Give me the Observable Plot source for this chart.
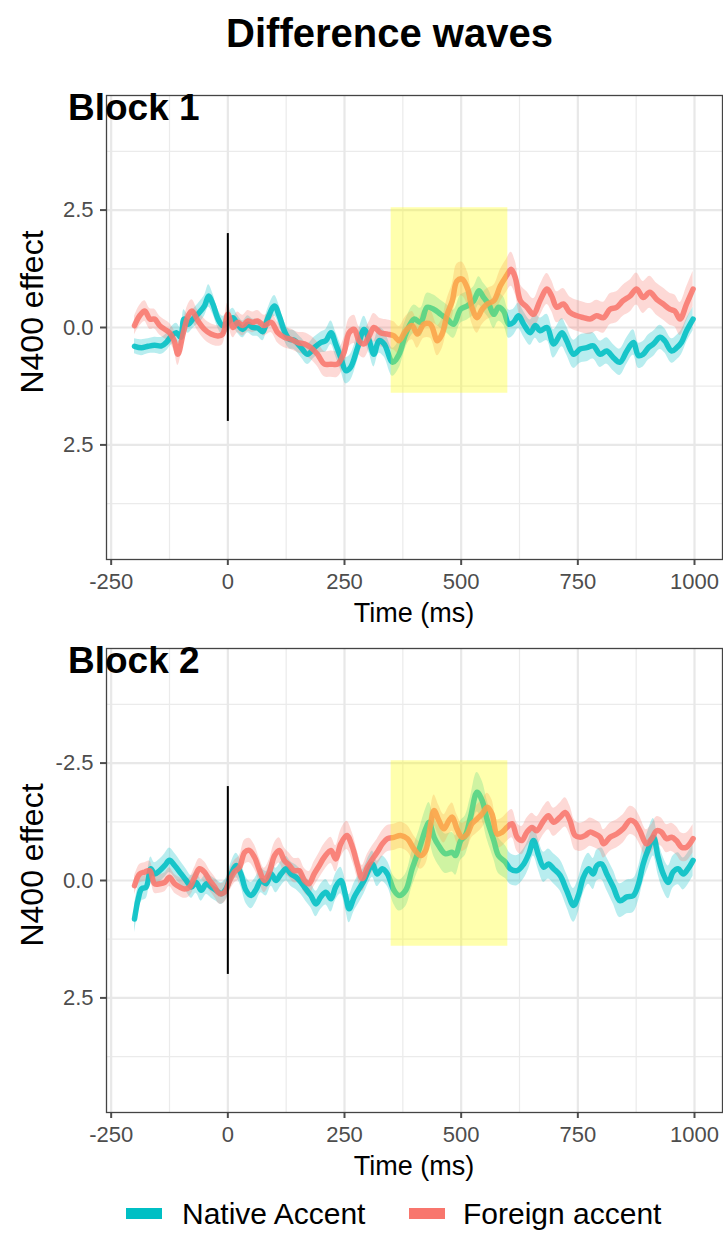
<!DOCTYPE html>
<html>
<head>
<meta charset="utf-8">
<script src="https://cdn.jsdelivr.net/npm/d3@7"></script>
<script src="https://cdn.jsdelivr.net/npm/@observablehq/plot@0.6"></script>
<style>
  html, body { margin: 0; padding: 0; background: #fff; }
  #wrap { position: relative; width: 723px; height: 1237px; background: #fff; overflow: hidden; font-family: "Liberation Sans", Arial, Helvetica, sans-serif; }
  #wrap > svg { position: absolute; left: 0; }
</style>
</head>
<body>
<div id="wrap"></div>
<script>
// ---------------- data ----------------
const seriesNames = ["Native Accent", "Foreign accent"];
const seriesColors = ["#00BFC4", "#F8766D"];
const xTicks = [-250, 0, 250, 500, 750, 1000];
const xMinor = [-125, 125, 375, 625, 875];
const yTicks = [-2.5, 0, 2.5];
const yMinor = [-3.75, -1.25, 1.25, 3.75];
const yLabelsBlock1 = ["2.5", "0.0", "2.5"];
const yLabelsBlock2 = ["-2.5", "0.0", "2.5"];
const windowMs = [350, 600];
const windowUv = [-2.55, 1.4];
const onsetMarker = [-2, 2];

// [time (ms), mean, standard error]
const b1Native = [[-200,0.40,0.16],[-185,0.43,0.17],[-171,0.40,0.16],[-157,0.38,0.17],[-142,0.39,0.18],[-132,0.32,0.18],[-121,0.18,0.19],[-110,0.11,0.2],[-101,0.21,0.2],[-94,-0.18,0.2],[-85,-0.07,0.19],[-75,-0.18,0.2],[-61,-0.32,0.22],[-50,-0.46,0.22],[-41,-0.67,0.24],[-32,-0.50,0.22],[-21,-0.18,0.2],[-11,-0.04,0.2],[0,-0.11,0.2],[11,-0.21,0.2],[21,-0.07,0.19],[32,0.04,0.18],[43,-0.07,0.18],[53,0.0,0.18],[64,0.01,0.18],[75,0.09,0.19],[85,-0.18,0.2],[100,-0.46,0.22],[110,-0.25,0.22],[121,0.07,0.2],[132,0.25,0.2],[142,0.27,0.2],[157,0.43,0.21],[171,0.57,0.22],[185,0.43,0.22],[199,0.32,0.22],[210,0.28,0.24],[221,0.11,0.25],[231,0.35,0.26],[242,0.64,0.27],[253,0.92,0.28],[263,0.85,0.28],[278,0.43,0.28],[292,0.04,0.28],[303,0.28,0.27],[313,0.57,0.27],[324,0.28,0.27],[335,0.35,0.28],[353,0.74,0.3],[367,0.57,0.3],[381,0.14,0.3],[399,-0.18,0.3],[413,-0.11,0.3],[427,-0.43,0.3],[441,-0.39,0.3],[456,-0.28,0.3],[470,-0.18,0.3],[484,-0.07,0.3],[499,-0.39,0.3],[513,-0.46,0.3],[527,-0.57,0.3],[538,-0.78,0.3],[548,-0.64,0.3],[559,-0.50,0.3],[570,-0.28,0.3],[580,-0.43,0.3],[591,-0.35,0.3],[602,-0.07,0.3],[612,-0.11,0.28],[623,-0.25,0.27],[634,-0.07,0.27],[648,0.11,0.27],[659,-0.04,0.27],[669,0.07,0.27],[684,0.0,0.28],[698,0.35,0.3],[716,0.11,0.3],[726,0.28,0.3],[741,0.57,0.3],[755,0.46,0.3],[769,0.43,0.3],[783,0.39,0.28],[798,0.57,0.28],[812,0.50,0.28],[826,0.64,0.28],[840,0.74,0.28],[855,0.50,0.28],[869,0.32,0.27],[880,0.60,0.27],[890,0.57,0.27],[901,0.43,0.27],[912,0.35,0.27],[926,0.21,0.26],[936,0.28,0.26],[951,0.50,0.26],[962,0.43,0.26],[972,0.32,0.26],[983,0.07,0.25],[997,-0.18,0.25]];

const b1Foreign = [[-200,-0.04,0.2],[-189,-0.25,0.22],[-178,-0.35,0.22],[-167,-0.18,0.22],[-157,-0.18,0.21],[-146,-0.04,0.2],[-135,0.04,0.2],[-125,0.11,0.2],[-115,0.28,0.22],[-107,0.57,0.24],[-96,0.14,0.24],[-85,-0.25,0.24],[-77,-0.35,0.24],[-64,-0.14,0.22],[-50,0.04,0.22],[-36,0.14,0.22],[-21,0.18,0.22],[-11,0.14,0.22],[0,-0.28,0.24],[11,0.0,0.22],[21,-0.11,0.22],[32,-0.04,0.22],[43,-0.14,0.22],[53,-0.11,0.22],[64,-0.14,0.22],[78,-0.04,0.22],[93,-0.11,0.22],[107,0.11,0.22],[121,0.21,0.22],[135,0.25,0.22],[150,0.32,0.22],[164,0.35,0.24],[178,0.43,0.25],[192,0.57,0.26],[207,0.78,0.27],[221,0.78,0.28],[235,0.78,0.28],[249,0.53,0.3],[260,0.11,0.3],[271,0.04,0.3],[281,0.28,0.3],[292,0.35,0.3],[303,0.18,0.3],[313,0.0,0.3],[327,0.11,0.3],[342,0.14,0.3],[356,0.18,0.3],[367,0.28,0.3],[381,0.07,0.3],[395,-0.04,0.3],[406,0.14,0.3],[420,-0.07,0.3],[434,-0.07,0.3],[449,0.28,0.32],[459,0.14,0.32],[470,-0.28,0.33],[481,-0.57,0.35],[491,-0.99,0.36],[502,-1.03,0.36],[514,-0.82,0.35],[523,-0.43,0.34],[534,-0.21,0.33],[545,-0.39,0.33],[556,-0.50,0.33],[570,-0.57,0.33],[584,-0.89,0.34],[597,-1.10,0.35],[607,-1.24,0.36],[616,-1.06,0.35],[627,-0.57,0.34],[641,-0.43,0.33],[655,-0.28,0.33],[669,-0.57,0.33],[684,-0.82,0.33],[694,-0.67,0.33],[705,-0.43,0.33],[719,-0.50,0.33],[733,-0.32,0.33],[748,-0.25,0.33],[762,-0.21,0.33],[776,-0.18,0.33],[790,-0.25,0.33],[805,-0.21,0.33],[819,-0.39,0.33],[833,-0.43,0.33],[847,-0.57,0.33],[862,-0.67,0.34],[876,-0.82,0.34],[890,-0.64,0.34],[904,-0.75,0.34],[919,-0.60,0.34],[933,-0.50,0.34],[947,-0.39,0.34],[958,-0.35,0.34],[969,-0.18,0.35],[983,-0.50,0.36],[997,-0.82,0.38]];

const b2Native = [[-200,0.82,0.3],[-192,0.39,0.28],[-185,0.18,0.26],[-175,0.14,0.25],[-165,-0.25,0.25],[-157,-0.14,0.24],[-146,-0.21,0.24],[-135,-0.32,0.25],[-125,-0.43,0.26],[-114,-0.32,0.26],[-100,-0.14,0.25],[-89,0.0,0.24],[-78,0.14,0.24],[-68,0.04,0.23],[-57,0.21,0.23],[-46,0.07,0.23],[-36,0.14,0.23],[-25,0.21,0.23],[-14,0.28,0.23],[-4,0.18,0.23],[7,-0.14,0.24],[18,-0.32,0.26],[28,-0.14,0.27],[39,0.21,0.28],[50,0.32,0.28],[61,0.18,0.27],[71,0.0,0.26],[82,0.07,0.26],[93,-0.14,0.26],[103,0.0,0.26],[114,-0.14,0.26],[125,-0.25,0.26],[135,-0.14,0.26],[146,-0.07,0.26],[157,0.04,0.26],[167,0.18,0.26],[178,0.32,0.26],[189,0.50,0.27],[199,0.35,0.27],[210,0.25,0.27],[221,0.39,0.28],[231,0.14,0.28],[242,0.0,0.28],[253,0.35,0.3],[260,0.60,0.3],[271,0.35,0.3],[281,0.18,0.3],[292,0.0,0.28],[303,-0.25,0.28],[310,-0.35,0.28],[320,-0.14,0.27],[331,-0.25,0.27],[342,-0.14,0.27],[356,0.21,0.3],[367,0.32,0.33],[381,0.21,0.35],[395,-0.25,0.38],[410,-0.67,0.4],[424,-1.10,0.42],[431,-1.24,0.42],[442,-0.92,0.42],[452,-0.74,0.42],[466,-0.57,0.42],[481,-0.60,0.42],[488,-0.53,0.42],[499,-0.85,0.42],[509,-0.96,0.42],[520,-1.35,0.42],[534,-1.88,0.42],[545,-1.70,0.42],[556,-1.28,0.42],[570,-0.85,0.4],[580,-0.53,0.38],[595,-0.39,0.35],[605,-0.25,0.33],[620,-0.21,0.32],[634,-0.35,0.32],[645,-0.57,0.32],[655,-0.85,0.33],[666,-0.53,0.32],[677,-0.28,0.32],[687,-0.35,0.32],[698,-0.25,0.32],[712,-0.11,0.33],[726,0.21,0.35],[741,0.53,0.36],[751,0.32,0.36],[762,-0.07,0.34],[773,-0.25,0.33],[783,-0.14,0.33],[791,-0.32,0.33],[801,-0.35,0.34],[812,-0.14,0.35],[826,0.14,0.36],[840,0.43,0.36],[855,0.35,0.36],[869,0.32,0.36],[880,0.07,0.36],[890,-0.35,0.38],[901,-0.67,0.4],[912,-0.92,0.4],[922,-0.50,0.38],[933,-0.14,0.36],[944,0.04,0.35],[954,-0.18,0.34],[965,-0.25,0.34],[976,-0.14,0.34],[986,-0.25,0.34],[997,-0.43,0.34]];

const b2Foreign = [[-200,0.11,0.2],[-189,-0.14,0.2],[-178,-0.18,0.2],[-167,-0.21,0.2],[-157,0.07,0.2],[-146,0.07,0.2],[-135,0.04,0.2],[-125,-0.07,0.2],[-114,0.07,0.2],[-103,0.14,0.2],[-93,0.18,0.2],[-82,0.14,0.2],[-71,-0.07,0.21],[-61,-0.25,0.22],[-50,-0.18,0.22],[-39,0.0,0.22],[-28,0.14,0.22],[-18,0.28,0.22],[-7,0.25,0.22],[4,0.0,0.23],[14,-0.18,0.24],[25,-0.28,0.25],[36,-0.60,0.26],[46,-0.64,0.26],[57,-0.50,0.26],[68,-0.21,0.26],[78,0.0,0.26],[89,-0.18,0.26],[100,-0.53,0.27],[110,-0.64,0.27],[121,-0.43,0.27],[132,-0.32,0.26],[142,-0.21,0.26],[153,-0.21,0.26],[164,0.0,0.26],[174,0.07,0.26],[185,-0.14,0.26],[196,-0.32,0.27],[207,-0.50,0.28],[221,-0.64,0.28],[231,-0.46,0.28],[242,-0.78,0.29],[255,-0.96,0.3],[267,-0.71,0.3],[278,-0.32,0.29],[288,-0.04,0.28],[299,-0.28,0.28],[310,-0.46,0.28],[320,-0.60,0.28],[331,-0.78,0.28],[342,-0.89,0.28],[356,-0.92,0.28],[370,-0.96,0.28],[385,-0.89,0.28],[399,-0.67,0.28],[413,-0.53,0.29],[424,-0.64,0.3],[434,-1.17,0.32],[442,-1.49,0.33],[452,-1.28,0.32],[463,-1.10,0.3],[474,-1.28,0.3],[481,-1.35,0.3],[491,-1.10,0.3],[502,-0.92,0.3],[513,-0.99,0.3],[523,-1.21,0.3],[534,-1.31,0.3],[545,-1.42,0.3],[556,-1.56,0.3],[566,-1.42,0.3],[577,-0.99,0.3],[588,-1.03,0.3],[598,-1.13,0.3],[609,-1.21,0.3],[620,-0.92,0.3],[630,-0.85,0.3],[641,-1.03,0.3],[652,-1.13,0.3],[662,-1.06,0.3],[677,-1.28,0.3],[687,-1.38,0.3],[698,-1.24,0.3],[712,-1.35,0.3],[723,-1.45,0.31],[733,-1.28,0.31],[744,-0.96,0.31],[755,-0.92,0.3],[766,-0.96,0.3],[776,-1.03,0.3],[787,-0.99,0.3],[798,-0.92,0.3],[805,-0.78,0.3],[819,-0.92,0.3],[833,-0.99,0.3],[847,-1.10,0.3],[862,-1.28,0.3],[872,-1.24,0.3],[883,-1.06,0.3],[897,-0.78,0.3],[908,-0.89,0.3],[919,-1.06,0.3],[929,-1.03,0.3],[940,-0.89,0.3],[951,-0.92,0.3],[961,-0.85,0.3],[972,-0.71,0.3],[983,-0.71,0.3],[997,-0.89,0.3]];

// ---------------- drawing ----------------
const FONT = '"Liberation Sans", Arial, Helvetica, sans-serif';
const wrap = document.getElementById("wrap");

function toRows(arr, name) {
  return arr.map(([t, v, se]) => ({ t, v, lo: v - se, hi: v + se, group: name }));
}

function panel(nativeArr, foreignArr, yLabels) {
  const rows = [...toRows(nativeArr, seriesNames[0]), ...toRows(foreignArr, seriesNames[1])];
  const curve = "catmull-rom";
  return Plot.plot({
    width: 723,
    height: 539,
    marginTop: 15,
    marginBottom: 60,
    marginLeft: 106,
    marginRight: 1,
    style: { fontFamily: FONT, background: "transparent", overflow: "visible" },
    x: { domain: [-260, 1060] },
    y: { domain: [-4.94, 4.94], reverse: true },
    color: { domain: seriesNames, range: seriesColors },
    marks: [
      Plot.gridX(xMinor, { stroke: "#ebebeb", strokeOpacity: 1, strokeWidth: 1.2 }),
      Plot.gridY(yMinor, { stroke: "#ebebeb", strokeOpacity: 1, strokeWidth: 1.2 }),
      Plot.gridX(xTicks, { stroke: "#e8e8e8", strokeOpacity: 1, strokeWidth: 2.2 }),
      Plot.gridY(yTicks, { stroke: "#e8e8e8", strokeOpacity: 1, strokeWidth: 2.2 }),
      Plot.areaY(rows, { x: "t", y1: "lo", y2: "hi", z: "group", fill: "group", fillOpacity: 0.28, curve }),
      Plot.line(rows, { x: "t", y: "v", z: "group", stroke: "group", strokeWidth: 5.5, strokeOpacity: 0.88, curve }),
      Plot.rect([0], { x1: windowMs[0], x2: windowMs[1], y1: windowUv[0], y2: windowUv[1], fill: "#ffff00", fillOpacity: 0.32 }),
      Plot.ruleX([0], { y1: onsetMarker[0], y2: onsetMarker[1], stroke: "#000", strokeWidth: 2 }),
      Plot.axisX({ ticks: xTicks, tickFormat: d => String(d), tickSize: 6, tickPadding: 8, fontSize: 22, color: "#4d4d4d", strokeWidth: 2, label: null }),
      Plot.axisY({ ticks: yTicks, tickFormat: (d, i) => yLabels[i], tickSize: 6, tickPadding: 7, fontSize: 22, color: "#4d4d4d", strokeWidth: 2, label: null }),
      Plot.frame({ stroke: "#444", strokeWidth: 1.3 })
    ]
  });
}

const p1 = panel(b1Native, b1Foreign, yLabelsBlock1);
p1.style.top = "80px";
wrap.appendChild(p1);
const p2 = panel(b2Native, b2Foreign, yLabelsBlock2);
p2.style.top = "633px";
wrap.appendChild(p2);

// overlay text: titles, axis titles, legend
const svg = d3.select(wrap).append("svg")
  .attr("width", 723).attr("height", 1237)
  .style("top", "0px")
  .style("font-family", FONT);

svg.append("text").attr("x", 389.5).attr("y", 47).attr("text-anchor", "middle")
  .attr("font-size", 40).attr("font-weight", "bold").attr("fill", "#000").text("Difference waves");

[["Block 1", 0], ["Block 2", 553]].forEach(([label, off]) => {
  svg.append("text").attr("x", 68).attr("y", 120 + off).attr("font-size", 37)
    .attr("font-weight", "bold").attr("fill", "#000").text(label);
  svg.append("text").attr("transform", `translate(43,${312 + off}) rotate(-90)`)
    .attr("text-anchor", "middle").attr("font-size", 32).attr("fill", "#000").text("N400 effect");
  svg.append("text").attr("x", 414).attr("y", 622 + off).attr("text-anchor", "middle")
    .attr("font-size", 27).attr("fill", "#000").text("Time (ms)");
});

const legendX = [[126, 182], [409, 463]];
seriesNames.forEach((name, i) => {
  svg.append("rect").attr("x", legendX[i][0]).attr("y", 1208).attr("width", 36).attr("height", 11)
    .attr("fill", seriesColors[i]);
  svg.append("text").attr("x", legendX[i][1]).attr("y", 1224).attr("font-size", 30)
    .attr("fill", "#000").text(name);
});
</script>
</body>
</html>
